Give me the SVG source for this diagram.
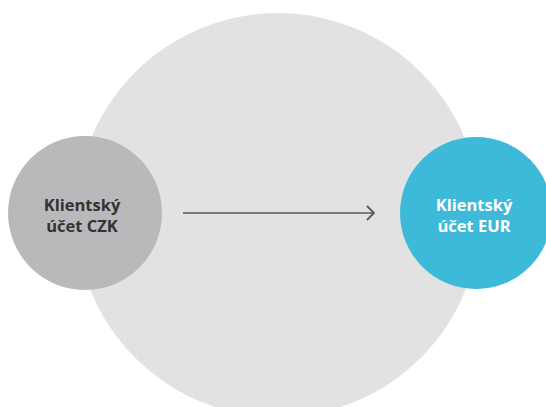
<svg xmlns="http://www.w3.org/2000/svg" width="546" height="407" viewBox="0 0 546 407">
<style>
.lbl{font-family:"Open Sans","Liberation Sans",sans-serif;font-weight:bold;font-size:16.5px;text-anchor:middle}
.conn{stroke:#5a5a5a;stroke-width:1.5;fill:none}
</style>
<defs>
<marker id="arr" markerWidth="12" markerHeight="16" refX="10" refY="8" orient="auto" markerUnits="userSpaceOnUse">
<path d="M3,1 L10,8 L3,15" fill="none" stroke="#5a5a5a" stroke-width="1.8"/>
</marker>
</defs>
<rect width="546" height="407" fill="#ffffff"/>
<g id="background-circle">
<circle cx="278" cy="215" r="202" fill="#e2e2e2"/>
</g>
<g id="node-czk">
<circle cx="85" cy="213" r="77" fill="#b9b9bb"/>
<text class="lbl" x="82" y="211" fill="#333333">Klientský</text>
<text class="lbl" x="82" y="232" fill="#333333">účet CZK</text>
</g>
<g id="node-eur">
<circle cx="476" cy="213" r="76" fill="#3db9d9"/>
<text class="lbl" x="474" y="211" fill="#ffffff">Klientský</text>
<text class="lbl" x="474" y="232" fill="#ffffff">účet EUR</text>
</g>
<g id="connectors">
<line class="conn" x1="183" y1="213" x2="374" y2="213" marker-end="url(#arr)"/>
</g>
</svg>
